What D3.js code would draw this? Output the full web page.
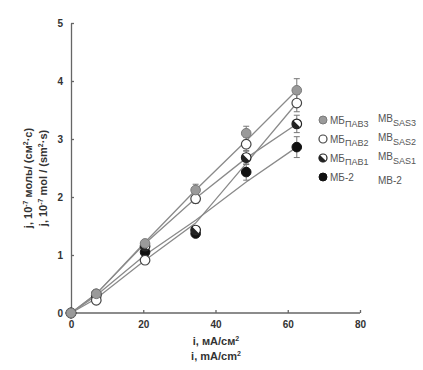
<!DOCTYPE html>
<html>
<head>
<meta charset="utf-8">
<script src="https://cdn.jsdelivr.net/npm/d3@7"></script>
<style>
body { margin: 0; background: #fff; }
svg text { font-family: "Liberation Sans", Arial, sans-serif; }
</style>
</head>
<body>
<div id="chart"></div>
<script>
// current density, mA/cm2
var xValues = [0, 7, 20.5, 34.5, 48.5, 62.5];
var xTicks = [0, 20, 40, 60, 80];
var yTicks = [0, 1, 2, 3, 4, 5];

// measured flux, 10^-7 mol/(cm2 s)
var sas3 = [0, 0.33, 1.2, 2.12, 3.1, 3.84];
var sas2 = [0, 0.22, 0.91, 1.97, 2.91, 3.62];
var sas1 = [0, 0.3, 1.15, 1.43, 2.68, 3.26];
var mb2 = [0, 0.33, 1.05, 1.37, 2.43, 2.86];

var sas3Err = [0, 0, 0.05, 0.1, 0.12, 0.2];
var sas2Err = [0, 0, 0.05, 0.08, 0.12, 0.15];
var sas1Err = [0, 0, 0.05, 0.06, 0.12, 0.15];
var mb2Err = [0, 0, 0.05, 0.05, 0.14, 0.18];

// drawn trend lines
var sas3Line = [0, 0.33, 1.22, 2.12, 2.97, 3.84];
var sas2Line = [0, 0.25, 0.91, 1.55, 2.58, 3.62];
var sas1Line = [0, 0.33, 1.2, 1.98, 2.67, 3.26];
var mb2Line = [0, 0.3, 1.0, 1.6, 2.26, 2.86];

var legendRu = ["ПАВ3", "ПАВ2", "ПАВ1", "-2"];
var legendEn = ["SAS3", "SAS2", "SAS1", "-2"];

function init() {
    var w = 423, h = 370;
    var margin = { top: 23, left: 71 };
    var width = 289, height = 290;

    var svg = d3.select("#chart").append("svg")
        .attr("width", w).attr("height", h);
    var g = svg.append("g")
        .attr("transform", "translate(" + margin.left + "," + margin.top + ")");

    var x = d3.scaleLinear().domain([0, 80]).range([0, width]);
    var y = d3.scaleLinear().domain([0, 5]).range([height, 0]);

    var series = [
        { vals: sas3, err: sas3Err, line: sas3Line, type: "grey" },
        { vals: sas2, err: sas2Err, line: sas2Line, type: "open" },
        { vals: sas1, err: sas1Err, line: sas1Line, type: "half" },
        { vals: mb2, err: mb2Err, line: mb2Line, type: "black" }
    ];

    // axes
    var xAxis = d3.axisBottom(x).tickValues(xTicks).tickFormat(d3.format("d"))
        .tickSizeInner(-3).tickSizeOuter(0).tickPadding(8);
    var yAxis = d3.axisLeft(y).tickValues(yTicks).tickFormat(d3.format("d"))
        .tickSizeInner(-3).tickSizeOuter(0).tickPadding(8);
    var gx = g.append("g").attr("transform", "translate(0," + height + ")").call(xAxis);
    var gy = g.append("g").call(yAxis);
    [gx, gy].forEach(function(a) {
        a.selectAll("path, line").attr("stroke", "#666").attr("stroke-width", 1.3);
        a.selectAll("text").attr("fill", "#333").style("font-size", "10px").style("font-weight", "bold");
    });
    gx.select(".domain").attr("d", "M0,0H" + width);

    var line = d3.line()
        .x(function(d, i) { return x(xValues[i]); })
        .y(function(d) { return y(d); });

    series.forEach(function(s) {
        g.append("path").datum(s.line)
            .attr("d", line)
            .attr("fill", "none")
            .attr("stroke", "#8a8a8a")
            .attr("stroke-width", 1.3);
    });

    // error bars
    series.forEach(function(s) {
        s.vals.forEach(function(v, i) {
            if (!s.err[i]) return;
            var cx = x(xValues[i]);
            var eg = g.append("g").attr("stroke", "#777").attr("stroke-width", 1);
            eg.append("line").attr("x1", cx).attr("x2", cx)
                .attr("y1", y(v - s.err[i])).attr("y2", y(v + s.err[i]));
            [v - s.err[i], v + s.err[i]].forEach(function(e) {
                eg.append("line").attr("x1", cx - 3).attr("x2", cx + 3)
                    .attr("y1", y(e)).attr("y2", y(e));
            });
        });
    });

    function marker(sel, type, cx, cy, r) {
        if (type === "grey") {
            sel.append("circle").attr("cx", cx).attr("cy", cy).attr("r", r)
                .attr("fill", "#9a9a9a").attr("stroke", "#7a7a7a");
        } else if (type === "open") {
            sel.append("circle").attr("cx", cx).attr("cy", cy).attr("r", r)
                .attr("fill", "#fff").attr("stroke", "#444").attr("stroke-width", 1.2);
        } else if (type === "half") {
            sel.append("circle").attr("cx", cx).attr("cy", cy).attr("r", r)
                .attr("fill", "#fff").attr("stroke", "#222").attr("stroke-width", 1.2);
            var a = r * Math.SQRT1_2;
            sel.append("path")
                .attr("d", "M" + (cx + a) + "," + (cy - a) + "A" + r + "," + r + " 0 0,1 " + (cx - a) + "," + (cy + a) + "Z")
                .attr("transform", "rotate(90," + cx + "," + cy + ")")
                .attr("fill", "#222");
        } else {
            sel.append("circle").attr("cx", cx).attr("cy", cy).attr("r", r)
                .attr("fill", "#111").attr("stroke", "#111");
        }
    }

    // points, black first so the grey ones sit on top
    series.slice().reverse().forEach(function(s) {
        s.vals.forEach(function(v, i) {
            marker(g, s.type, x(xValues[i]), y(v), 4.8);
        });
    });

    // legend
    var lg = svg.append("g").attr("fill", "#555").style("font-size", "10px");
    series.forEach(function(s, i) {
        var ly = 120 + i * 19;
        marker(lg, s.type, 323, ly, 4);
        var t = lg.append("text").attr("x", 330).attr("y", ly + 4);
        t.append("tspan").text(i === 3 ? "МБ" + legendRu[i] : "МБ");
        if (i < 3) t.append("tspan").attr("dy", 3).style("font-size", "9px").text(legendRu[i]);
        var t2 = lg.append("text").attr("x", 378).attr("y", ly + 2 + (i === 3 ? 5 : 0));
        t2.append("tspan").text(i === 3 ? "МВ" + legendEn[i] : "МВ");
        if (i < 3) t2.append("tspan").attr("dy", 4).style("font-size", "9px").text(legendEn[i]);
    });

    // axis titles
    var xt = svg.append("g").attr("fill", "#333").style("font-size", "11px").style("font-weight", "bold")
        .attr("text-anchor", "middle");
    var t1 = xt.append("text").attr("x", 216).attr("y", 345);
    t1.append("tspan").text("i, мА/см");
    t1.append("tspan").attr("dy", -4).style("font-size", "7px").text("2");
    var t2 = xt.append("text").attr("x", 216).attr("y", 360);
    t2.append("tspan").text("i, mA/cm");
    t2.append("tspan").attr("dy", -4).style("font-size", "7px").text("2");

    var yt = svg.append("g").attr("fill", "#333").style("font-size", "11px").style("font-weight", "bold")
        .attr("text-anchor", "middle");
    var y1 = yt.append("text").attr("transform", "translate(32,178) rotate(-90)");
    y1.append("tspan").text("j, 10");
    y1.append("tspan").attr("dy", -4).style("font-size", "7px").text("-7");
    y1.append("tspan").attr("dy", 4).text(" моль/ (см");
    y1.append("tspan").attr("dy", -4).style("font-size", "7px").text("2");
    y1.append("tspan").attr("dy", 4).text("·с)");
    var y2 = yt.append("text").attr("transform", "translate(47,178) rotate(-90)");
    y2.append("tspan").text("j, 10");
    y2.append("tspan").attr("dy", -4).style("font-size", "7px").text("-7");
    y2.append("tspan").attr("dy", 4).text(" mol / (sm");
    y2.append("tspan").attr("dy", -4).style("font-size", "7px").text("2");
    y2.append("tspan").attr("dy", 4).text("·s)");
}

window.onload = init;
</script>
</body>
</html>
